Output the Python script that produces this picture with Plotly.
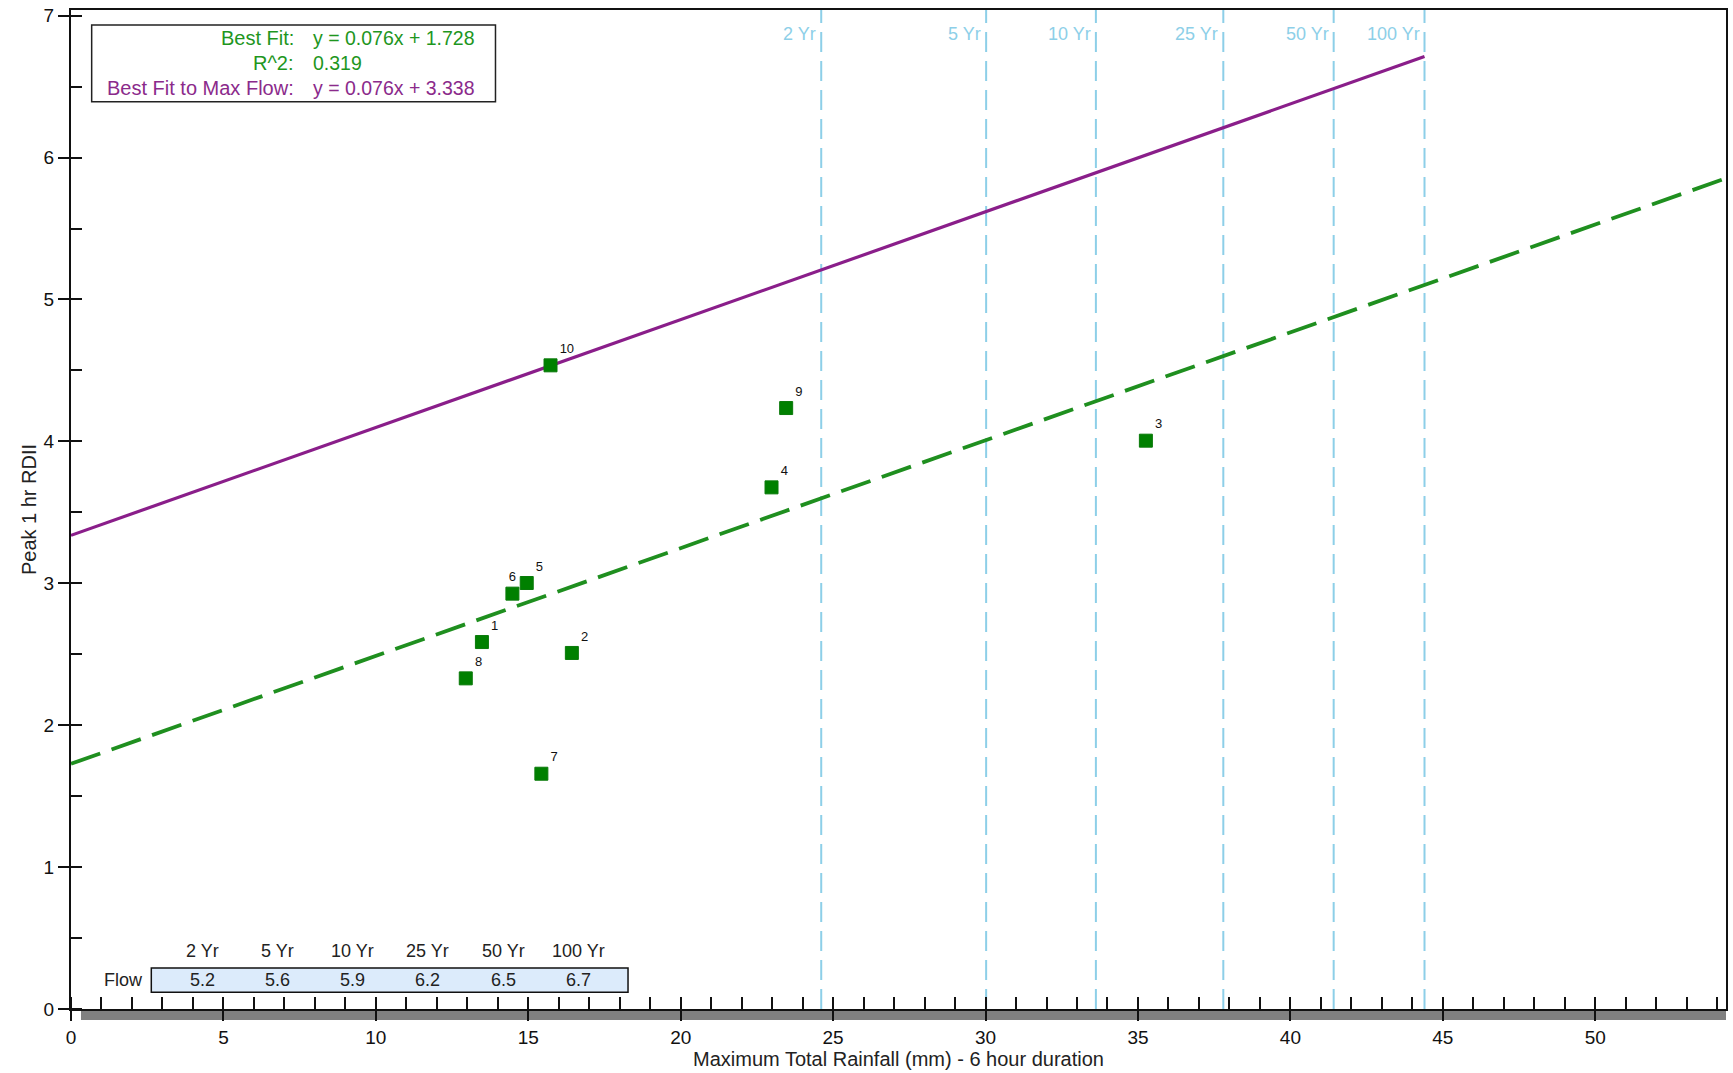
import plotly.graph_objects as go

# ---------------- data ----------------
point_ids = ["1", "2", "3", "4", "5", "6", "7", "8", "9", "10"]
rainfall_mm = [13.48, 16.43, 35.26, 22.98, 14.95, 14.48, 15.43, 12.95, 23.46, 15.73]
peak_rdii = [2.586, 2.509, 4.005, 3.676, 3.002, 2.927, 1.658, 2.330, 4.235, 4.536]
label_pos = ["top right", "top right", "top right", "top right", "top right",
             "top center", "top right", "top right", "top right", "top right"]

fit_slope, fit_intercept = 0.076, 1.728
max_slope, max_intercept = 0.076, 3.338
r_squared = 0.319
fit_x = [0, 54.29]
max_fit_x = [0, 44.4]

period_labels = ["2 Yr", "5 Yr", "10 Yr", "25 Yr", "50 Yr", "100 Yr"]
period_rainfall = [24.61, 30.02, 33.62, 37.8, 41.42, 44.4]
period_flow = ["5.2", "5.6", "5.9", "6.2", "6.5", "6.7"]

x_range = [0, 54.29]
y_range = [0, 7.04]

# ---------------- layout helpers ----------------
W, H = 1733, 1073
ML, MR, MT, MB = 71, 5, 10, 64
PW, PH = W - ML - MR, H - MT - MB


def px_x(px):
    return (px - ML) / PW


def px_y(py):
    return (H - MB - py) / PH


FONT = "Liberation Sans, Arial, sans-serif"
GREEN_TXT = "#1E961E"
PURPLE_TXT = "#8B2A8B"
GREEN_LINE = "#1F8F1F"
PURPLE_LINE = "#8A1E8A"
BLUE = "#8DCFE8"

fig = go.Figure()

# return-period vertical lines
for xv in period_rainfall:
    fig.add_shape(type="line", xref="x", yref="paper", x0=xv, x1=xv, y0=0, y1=1,
                  line=dict(color=BLUE, width=2, dash="20px,9px"), layer="below")

# best fit (dashed green)
fig.add_trace(go.Scatter(
    x=fit_x, y=[fit_slope * v + fit_intercept for v in fit_x], mode="lines",
    line=dict(color=GREEN_LINE, width=3.8, dash="31px,12px"),
    hoverinfo="skip", showlegend=False))

# best fit to max flow (purple)
fig.add_trace(go.Scatter(
    x=max_fit_x, y=[max_slope * v + max_intercept for v in max_fit_x], mode="lines",
    line=dict(color=PURPLE_LINE, width=3.2),
    hoverinfo="skip", showlegend=False))

# data points
fig.add_trace(go.Scatter(
    x=rainfall_mm, y=peak_rdii, mode="markers+text", text=point_ids,
    textposition=label_pos, textfont=dict(family=FONT, size=13, color="#111"),
    marker=dict(symbol="square", size=13, color="#008000",
                line=dict(color="#0A7A0A", width=1)),
    showlegend=False))

# invisible trace for the secondary (tick-only) axes
fig.add_trace(go.Scatter(x=[None], y=[None], xaxis="x2", yaxis="y2",
                         showlegend=False, hoverinfo="skip"))

tickfont = dict(family=FONT, size=19, color="#111")

fig.update_layout(
    width=W, height=H,
    margin=dict(l=ML, r=MR, t=MT, b=MB, pad=0),
    paper_bgcolor="white", plot_bgcolor="white",
    xaxis=dict(range=x_range, dtick=5, tick0=0, showgrid=False, zeroline=False,
               showline=True, linecolor="#111", linewidth=2, mirror=True,
               ticks="outside", ticklen=10, tickwidth=1.5, tickcolor="#111",
               minor=dict(dtick=1, ticks="inside", ticklen=12, tickwidth=1.5,
                          tickcolor="#111", showgrid=False),
               tickfont=tickfont,
               title=dict(text="Maximum Total Rainfall (mm) - 6 hour duration",
                          font=dict(family=FONT, size=20, color="#222"), standoff=5)),
    yaxis=dict(range=y_range, dtick=1, tick0=0, showgrid=False, zeroline=False,
               showline=True, linecolor="#111", linewidth=2, mirror=True,
               ticks="outside", ticklen=11, tickwidth=1.5, tickcolor="#111",
               minor=dict(dtick=0.5, ticks="inside", ticklen=11, tickwidth=1.5,
                          tickcolor="#111", showgrid=False),
               tickfont=tickfont,
               title=dict(text="Peak 1 hr RDII",
                          font=dict(family=FONT, size=20, color="#222"), standoff=2)),
    xaxis2=dict(overlaying="x", matches="x", range=x_range, dtick=5, tick0=0,
                ticks="inside", ticklen=12, tickwidth=1.5, tickcolor="#111",
                showticklabels=False, showgrid=False, zeroline=False, showline=False),
    yaxis2=dict(overlaying="y", matches="y", range=y_range, dtick=1, tick0=0,
                ticks="inside", ticklen=11, tickwidth=1.5, tickcolor="#111",
                showticklabels=False, showgrid=False, zeroline=False, showline=False),
)

# gray shadow band under x axis
fig.add_shape(type="rect", xref="paper", yref="paper",
              x0=px_x(81), x1=1.0, y0=px_y(1020), y1=px_y(1010),
              fillcolor="#808080", line=dict(width=0), layer="below")

annotations = []

# return-period labels at top
for lab, xv in zip(period_labels, period_rainfall):
    annotations.append(dict(x=xv, xref="x", y=px_y(34.5), yref="paper", text=lab,
                            showarrow=False, xanchor="right", yanchor="middle", xshift=-3,
                            font=dict(family=FONT, size=18, color=BLUE)))

# legend / equation box
fig.add_shape(type="rect", xref="paper", yref="paper",
              x0=px_x(91.7), x1=px_x(496), y0=px_y(101.7), y1=px_y(25),
              fillcolor="white", line=dict(color="#222", width=1.5))
eq_rows = [
    ("Best Fit:", f"y = {fit_slope:.3f}x + {fit_intercept:.3f}", GREEN_TXT, 38.5),
    ("R^2:", f"{r_squared:.3f}", GREEN_TXT, 63),
    ("Best Fit to Max Flow:", f"y = {max_slope:.3f}x + {max_intercept:.3f}", PURPLE_TXT, 88),
]
for lab, val, col, py in eq_rows:
    annotations.append(dict(x=px_x(296), xref="paper", y=px_y(py), yref="paper", text=lab,
                            showarrow=False, xanchor="right", yanchor="middle",
                            font=dict(family=FONT, size=20, color=col)))
    annotations.append(dict(x=px_x(311), xref="paper", y=px_y(py), yref="paper", text=val,
                            showarrow=False, xanchor="left", yanchor="middle",
                            font=dict(family=FONT, size=19.5, color=col)))

# flow table
fig.add_shape(type="rect", xref="paper", yref="paper",
              x0=px_x(151.4), x1=px_x(628.7), y0=px_y(992.3), y1=px_y(968),
              fillcolor="#DCEBFB", line=dict(color="#111", width=1.5))
annotations.append(dict(x=px_x(145), xref="paper", y=px_y(980), yref="paper", text="Flow",
                        showarrow=False, xanchor="right", yanchor="middle",
                        font=dict(family=FONT, size=18, color="#222")))
for i, (lab, fl) in enumerate(zip(period_labels, period_flow)):
    cx = 202.2 + i * 75.4
    annotations.append(dict(x=px_x(cx), xref="paper", y=px_y(951.4), yref="paper", text=lab,
                            showarrow=False, xanchor="center", yanchor="middle",
                            font=dict(family=FONT, size=18, color="#222")))
    annotations.append(dict(x=px_x(cx), xref="paper", y=px_y(980), yref="paper", text=fl,
                            showarrow=False, xanchor="center", yanchor="middle",
                            font=dict(family=FONT, size=18, color="#222")))

fig.update_layout(annotations=annotations)

fig.write_html("out.html", config={"displayModeBar": False},
               post_script="document.body.style.margin='0';document.body.style.overflow='hidden';")
